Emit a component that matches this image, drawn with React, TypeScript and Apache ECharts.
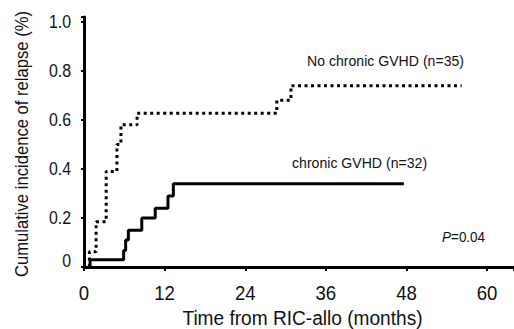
import React, { useEffect, useRef } from "react";
import * as echarts from "echarts";

const xTicks = [0, 12, 24, 36, 48, 60];
const yTicks = [0, 0.2, 0.4, 0.6, 0.8, 1.0];
const xTitle = "Time from RIC-allo (months)";
const yTitle = "Cumulative incidence of relapse (%)";

// chronic GVHD (n=32): [month, cumulative incidence]
const chronicGvhd: [number, number][] = [
  [0.9, 0], [0.9, 0.03], [5.9, 0.067], [6.2, 0.11], [6.6, 0.15],
  [8.6, 0.2], [10.6, 0.24], [12.5, 0.29], [13.3, 0.34], [47.6, 0.34],
];

// No chronic GVHD (n=35)
const noChronicGvhd: [number, number][] = [
  [0.8, 0], [0.8, 0.062], [1.8, 0.185], [3.3, 0.39], [4.9, 0.5],
  [5.5, 0.58], [7.9, 0.627], [28.7, 0.68], [30.8, 0.74], [56.2, 0.74],
];

const FONT = "'Liberation Sans', Arial, sans-serif";
const INK = "#111";

export default function App() {
  const ref = useRef<HTMLDivElement>(null);
  useEffect(() => {
    if (!ref.current) return;
    document.body.style.margin = "0";
    document.body.style.overflow = "hidden";
    const chart = echarts.init(ref.current, null, { renderer: "svg" });
    chart.setOption({
      animation: false,
      backgroundColor: "#fff",
      grid: { left: 84, top: 17, width: 430, height: 250, containLabel: false },
      xAxis: {
        type: "value",
        min: 0,
        max: 64,
        interval: 12,
        axisLine: { show: true, lineStyle: { color: "#000", width: 3 } },
        axisTick: { show: true, length: 4, lineStyle: { color: "#000", width: 2 } },
        axisLabel: { show: false },
        splitLine: { show: false },
      },
      yAxis: {
        type: "value",
        min: 0,
        max: 1.02,
        interval: 0.2,
        axisLine: { show: true, lineStyle: { color: "#000", width: 3 } },
        axisTick: { show: true, length: 3, lineStyle: { color: "#000", width: 2 } },
        axisLabel: { show: false },
        splitLine: { show: false },
      },
      series: [
        {
          type: "line",
          step: "end",
          data: noChronicGvhd,
          showSymbol: false,
          lineStyle: { color: "#000", width: 3, type: [3, 3.5], cap: "butt" },
        },
        {
          type: "line",
          step: "end",
          data: chronicGvhd,
          showSymbol: false,
          lineStyle: { color: "#000", width: 3 },
        },
      ],
    });

    const px = (v: [number, number]) => chart.convertToPixel({ gridIndex: 0 }, v) as number[];
    const graphics: any[] = [];
    xTicks.forEach((t) => {
      const p = px([t, 0]);
      graphics.push({
        type: "text", x: p[0], y: 293, scaleX: 0.93,
        style: { text: String(t), font: `20px ${FONT}`, fill: INK, align: "center", verticalAlign: "middle" },
      });
    });
    yTicks.forEach((t) => {
      const p = px([0, t]);
      graphics.push({
        type: "text", x: 71, y: t === 0 ? 261 : p[1], scaleX: 0.86,
        style: {
          text: t === 0 ? "0" : t.toFixed(1), font: `18.5px ${FONT}`, fill: INK,
          align: "right", verticalAlign: "middle",
        },
      });
    });
    graphics.push({
      type: "text", x: 302.5, y: 318, scaleX: 0.91,
      style: { text: xTitle, font: `21px ${FONT}`, fill: INK, align: "center", verticalAlign: "middle" },
    });
    graphics.push({
      type: "text", x: 22, y: 144, rotation: Math.PI / 2, scaleX: 0.9,
      style: { text: yTitle, font: `18.5px ${FONT}`, fill: INK, align: "center", verticalAlign: "middle" },
    });
    graphics.push({
      type: "text", x: 307, y: 61, scaleX: 0.94,
      style: { text: "No chronic GVHD (n=35)", font: `15px ${FONT}`, fill: INK, align: "left", verticalAlign: "middle" },
    });
    graphics.push({
      type: "text", x: 292, y: 163, scaleX: 0.94,
      style: { text: "chronic GVHD (n=32)", font: `15px ${FONT}`, fill: INK, align: "left", verticalAlign: "middle" },
    });
    graphics.push({
      type: "text", x: 442, y: 237, scaleX: 0.9,
      style: {
        text: "{i|P}=0.04", font: `15px ${FONT}`, fill: INK, align: "left", verticalAlign: "middle",
        rich: { i: { fontStyle: "italic", fontFamily: FONT, fontSize: 15, fill: INK } },
      },
    });
    chart.setOption({ graphic: graphics });
    return () => chart.dispose();
  }, []);
  return (
    <div
      ref={ref}
      style={{ position: "absolute", left: 0, top: 0, width: 514, height: 329 }}
    />
  );
}
